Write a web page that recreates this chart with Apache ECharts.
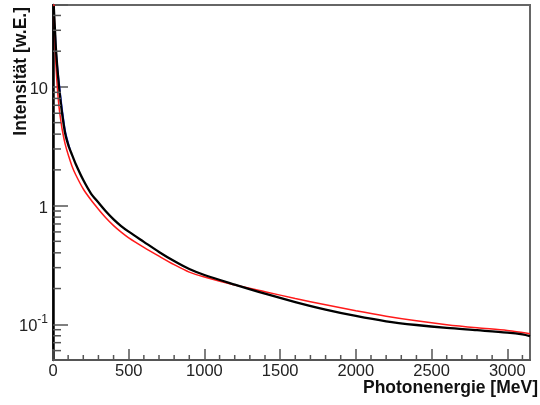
<!DOCTYPE html>
<html>
<head>
<meta charset="utf-8">
<script src="https://cdn.jsdelivr.net/npm/echarts@6/dist/echarts.min.js"></script>
<style>html,body{margin:0;padding:0;background:#fff}#c{width:540px;height:405px}</style>
</head>
<body>
<div id="c"></div>
<script>
// Data (energy in MeV, intensity in arbitrary units)
var energies = [5, 10, 15, 20, 30, 40, 50, 60, 80, 100, 125, 150, 200, 250, 300, 350, 400, 450, 500, 600, 700, 800, 900, 1000, 1200, 1400, 1600, 1800, 2000, 2200, 2400, 2600, 2800, 3000, 3100, 3150];
var blackI = [47.9, 36, 26.9, 20.4, 13.8, 10, 7.6, 6.0, 4.07, 3.27, 2.69, 2.24, 1.64, 1.27, 1.06, 0.89, 0.765, 0.672, 0.603, 0.495, 0.407, 0.341, 0.292, 0.260, 0.216, 0.181, 0.154, 0.133, 0.1175, 0.106, 0.0986, 0.0931, 0.0891, 0.0851, 0.0822, 0.0794];
var redI = [52.5, 33.9, 21.2, 14.7, 9.33, 6.76, 5.37, 4.42, 3.31, 2.69, 2.16, 1.82, 1.38, 1.12, 0.933, 0.786, 0.678, 0.598, 0.535, 0.445, 0.375, 0.318, 0.275, 0.250, 0.214, 0.188, 0.165, 0.146, 0.130, 0.117, 0.107, 0.0993, 0.0935, 0.0887, 0.0851, 0.0832];
var blueE = [14, 20, 30, 45, 62, 82, 112];
var blueI = [30, 20.5, 14.5, 9.6, 6.3, 4.2, 3.0];

var xMin = 0, xMax = 3150, xStep = 500;
var yMin = 0.05, yMax = 49;
var xMinorTicks = [100, 200, 300, 400, 600, 700, 800, 900, 1100, 1200, 1300, 1400, 1600, 1700, 1800, 1900, 2100, 2200, 2300, 2400, 2600, 2700, 2800, 2900, 3100];
var yMinorTicks = [0.06, 0.07, 0.08, 0.09, 0.2, 0.3, 0.4, 0.5, 0.6, 0.7, 0.8, 0.9, 2, 3, 4, 5, 6, 7, 8, 9, 20, 30, 40];

function pairs(xs, ys) { return xs.map(function (x, i) { return [x, ys[i]]; }); }

var axisColor = '#555';
var chart = echarts.init(document.getElementById('c'), null, { renderer: 'canvas' });

function tickRender(dir, len) {
  return function (params, api) {
    var p = api.coord([api.value(0), api.value(1)]);
    var s = dir === 'x' ? { x1: p[0], y1: p[1], x2: p[0], y2: p[1] - len } : { x1: p[0], y1: p[1], x2: p[0] + len, y2: p[1] };
    return { type: 'line', shape: s, style: { stroke: axisColor, lineWidth: 1.5 } };
  };
}

chart.setOption({
  animation: false,
  grid: { left: 53, right: 10, top: 5, bottom: 45, show: true, borderColor: '#666', borderWidth: 2, backgroundColor: '#fff' },
  xAxis: {
    type: 'value', min: xMin, max: xMax, interval: xStep,
    axisLine: { show: true, lineStyle: { color: axisColor, width: 2 } },
    axisTick: { show: true, inside: true, length: 11, lineStyle: { color: axisColor, width: 1.5 } },
    axisLabel: { show: true, showMaxLabel: false, margin: 3, color: '#222', fontSize: 16.5, fontFamily: 'Liberation Sans, Arial, sans-serif',
      formatter: function (v) { return v % 500 === 0 ? String(v) : ''; } },
    splitLine: { show: false }
  },
  yAxis: [{
    type: 'log', logBase: 10, min: yMin, max: yMax,
    axisLine: { show: true, onZero: false, lineStyle: { color: axisColor, width: 2 } },
    axisTick: { show: true, inside: true, length: 15, lineStyle: { color: axisColor, width: 1.5 } },
    axisLabel: {
      show: true, margin: 5, color: '#222', fontFamily: 'Liberation Sans, Arial, sans-serif', fontSize: 16.5,
      formatter: function (v) {
        var l = Math.log10(v), r = Math.round(l);
        if (Math.abs(l - r) > 1e-6) return '';
        if (r === 0) return '{b|1}';
        if (r === 1) return '{b|10}';
        return '{b|10}{s|' + r + '}';
      },
      rich: {
        b: { fontSize: 16.5, lineHeight: 22, verticalAlign: 'bottom', color: '#222', fontFamily: 'Liberation Sans, Arial, sans-serif' },
        s: { fontSize: 12, lineHeight: 12, verticalAlign: 'top', color: '#222', fontFamily: 'Liberation Sans, Arial, sans-serif' }
      }
    },
    splitLine: { show: false }
  }, {
    type: 'value', position: 'right', min: 0, max: 1,
    axisLine: { show: true, lineStyle: { color: '#000', width: 2.5 } },
    axisTick: { show: false }, axisLabel: { show: false }, splitLine: { show: false }
  }],
  series: [
    { type: 'custom', renderItem: tickRender('x', 5), data: xMinorTicks.map(function (v) { return [v, yMin]; }), silent: true, clip: false, z: 5 },
    { type: 'custom', renderItem: tickRender('y', 8), data: yMinorTicks.map(function (v) { return [xMin, v]; }), silent: true, clip: false, z: 5 },
    { type: 'line', data: pairs(blueE, blueI), showSymbol: false, smooth: 0.3, lineStyle: { color: '#1f3cff', width: 1.5 }, z: 2 },
    { type: 'line', data: pairs(energies, redI), showSymbol: false, smooth: 0.3, lineStyle: { color: '#ff1a1a', width: 1.5 }, z: 3 },
    { type: 'line', data: pairs(energies, blackI), showSymbol: false, smooth: 0.3, lineStyle: { color: '#000', width: 2.3 }, z: 4 }
  ],
  graphic: [
    { type: 'text', right: 2, top: 379, style: { text: 'Photonenergie [MeV]', fill: '#111', font: 'bold 17.5px "Liberation Sans", Arial, sans-serif' } },
    { type: 'text', x: 21, y: 7, rotation: Math.PI / 2, style: { text: 'Intensität [w.E.]', fill: '#111', font: 'bold 17.5px "Liberation Sans", Arial, sans-serif', textAlign: 'right', textVerticalAlign: 'middle' } }
  ]
});
</script>
</body>
</html>
